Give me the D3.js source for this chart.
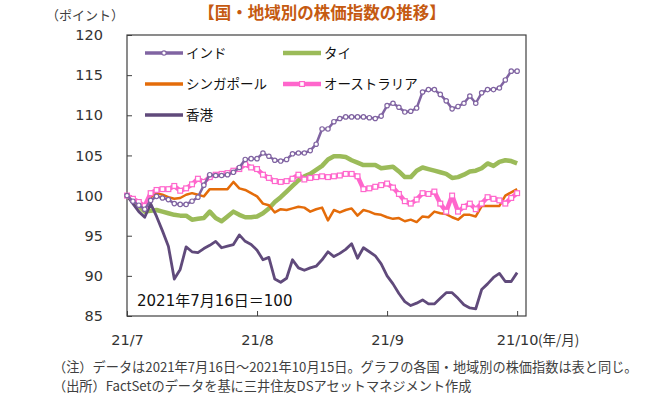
<!DOCTYPE html>
<html>
<head>
<meta charset="utf-8">
<script src="https://cdn.jsdelivr.net/npm/d3@7"></script>
<style>
  body { margin: 0; background: #fff; }
  svg text { font-family: "Noto Sans CJK JP", sans-serif; }
  .num text, text.num { font-family: "DejaVu Sans", "Noto Sans CJK JP", sans-serif; }
</style>
</head>
<body>
<svg id="chart" width="645" height="401"></svg>
<script>
/* DATA: ONE VALUE PER TRADING DAY, 2021/7/16 = 100 */
var names = ['インド', 'タイ', 'シンガポール', 'オーストラリア', '香港'];

var india = [100, 99.3, 98.8, 98.3, 99.4, 99.9, 99.7, 99.5, 99.0, 98.9, 98.9, 99.3, 99.8, 101.3, 102.6, 102.5, 102.5, 102.6, 102.9, 103.5,
  104.5, 104.6, 104.6, 105.3, 104.9, 104.4, 104.3, 104.5, 105.2, 105.3, 105.3, 105.6, 106.4, 108.3, 108.3, 109.2, 109.6, 109.8, 109.8, 109.8,
  109.8, 109.7, 109.6, 109.9, 111.2, 111.5, 111.0, 110.4, 110.5, 110.9, 112.9, 113.2, 113.2, 112.6, 111.8, 110.8, 111.1, 111.5, 112.4, 111.5,
  112.8, 113.2, 113.2, 113.4, 114.4, 115.5, 115.5];

var thai = [100, 99.4, 98.7, 98.0, 98.1, 98.2, 98.0, 97.8, 97.6, 97.5, 97.5, 97.0, 97.1, 97.2, 98.0, 97.2, 96.8, 97.4, 98.0, 97.6,
  97.3, 97.3, 97.4, 97.8, 98.4, 99.2, 99.8, 100.5, 101.2, 101.9, 102.4, 102.7, 103.2, 103.7, 104.5, 104.9, 104.9, 104.8, 104.4, 104.1,
  103.8, 103.8, 103.8, 103.4, 103.5, 103.6, 103.0, 102.3, 102.3, 103.1, 103.5, 103.3, 103.1, 102.9, 102.7, 102.2, 102.3, 102.6, 103.0, 103.1,
  103.4, 104.0, 103.7, 104.2, 104.4, 104.3, 104.0];

var singapore = [100, 99.3, 98.8, 98.9, 99.8, 100.3, 100.1, 99.8, 99.6, 99.7, 100.1, 100.3, 100.1, 99.9, 100.8, 100.8, 100.8, 100.8, 101.7, 100.9,
  100.7, 100.3, 99.9, 99.0, 98.8, 97.9, 98.3, 98.2, 98.4, 98.6, 98.5, 98.0, 98.3, 98.5, 96.9, 98.2, 97.9, 98.2, 98.4, 97.5,
  98.2, 98.0, 97.7, 97.6, 97.3, 97.1, 97.2, 96.8, 97.0, 96.7, 97.4, 97.3, 98.0, 97.8, 97.7, 97.3, 97.0, 97.6, 97.6, 97.4,
  98.7, 98.7, 98.7, 98.7, 100.0, 100.4, 100.8];

var australia = [100, 99.6, 99.2, 98.7, 100.3, 100.7, 100.8, 100.8, 101.2, 100.6, 100.9, 101.4, 102.1, 101.7, 102.3, 102.6, 102.7, 102.8, 103.1, 103.3,
  103.9, 103.5, 103.3, 102.6, 102.2, 101.8, 101.7, 101.8, 102.1, 102.6, 102.0, 102.2, 102.3, 102.4, 102.3, 102.4, 102.5, 102.7, 102.7, 102.4,
  100.8, 100.9, 101.1, 101.3, 101.5, 101.0, 100.2, 99.3, 99.0, 99.5, 100.3, 100.2, 100.5, 99.0, 98.0, 100.0, 98.0, 98.6, 99.0, 98.3,
  99.0, 99.8, 99.6, 99.4, 99.0, 99.7, 100.3];

var hongkong = [100, 99.0, 98.0, 97.3, 99.0, 97.4, 95.6, 93.7, 89.6, 90.8, 93.6, 93.0, 92.9, 93.4, 93.8, 94.3, 93.5, 93.7, 93.9, 95.1,
  94.3, 93.9, 93.2, 92.0, 92.3, 89.6, 89.2, 89.7, 92.0, 91.0, 90.7, 91.0, 91.2, 92.0, 93.0, 92.4, 92.8, 93.3, 94.0, 92.2,
  93.5, 93.0, 92.5, 91.5, 90.0, 89.0, 87.8, 86.8, 86.3, 86.6, 87.0, 86.5, 86.5, 87.2, 87.9, 87.9, 87.2, 86.4, 86.0, 85.9,
  88.3, 89.0, 89.8, 90.3, 89.3, 89.3, 90.4];

var xTickIndex = [0, 22, 44, 66];
var xTickLabels = ['21/7', '21/8', '21/9', '21/10'];
var yTicks = [85, 90, 95, 100, 105, 110, 115, 120];

/* SERIES STYLES */
var series = [
  { name: names[1], values: thai, color: '#9BBB59', width: 4.5, marker: null },
  { name: names[2], values: singapore, color: '#E46C0A', width: 2.5, marker: null },
  { name: names[4], values: hongkong, color: '#604A7B', width: 2.8, marker: null },
  { name: names[3], values: australia, color: '#FF66CC', width: 4.5, marker: 'square' },
  { name: names[0], values: india, color: '#8064A2', width: 2.5, marker: 'circle' }
];

var svg = d3.select('#chart');
var plot = { left: 127, right: 526, top: 35, bottom: 316 };

var x = d3.scaleLinear().domain([0, 67.5]).range([plot.left, plot.right]);
var y = d3.scaleLinear().domain([85, 120]).range([plot.bottom, plot.top]);

/* TITLE AND UNIT */
svg.append('text')
  .attr('x', 322).attr('y', 19)
  .attr('text-anchor', 'middle')
  .style('font-size', '16.5px').style('font-weight', 'bold')
  .attr('fill', '#C55A11')
  .text('【国・地域別の株価指数の推移】');

svg.append('text')
  .attr('x', 85).attr('y', 20)
  .attr('text-anchor', 'middle')
  .style('font-size', '13px')
  .attr('fill', '#404040')
  .text('（ポイント）');

/* AXES */
var yAxis = d3.axisLeft(y).tickValues(yTicks).tickSize(-5).tickPadding(24);
var gy = svg.append('g').attr('class', 'num')
  .attr('transform', 'translate(' + plot.left + ',0)')
  .call(yAxis);
gy.select('.domain').remove();
gy.selectAll('line').attr('stroke', '#404040');
gy.selectAll('text').style('font-size', '14.5px').attr('fill', '#333');

var xAxis = d3.axisBottom(x).tickValues(xTickIndex)
  .tickFormat(function(d, i) { return xTickLabels[i]; })
  .tickSize(-5).tickPadding(19);
var gx = svg.append('g').attr('class', 'num')
  .attr('transform', 'translate(0,' + plot.bottom + ')')
  .call(xAxis);
gx.select('.domain').remove();
gx.selectAll('line').attr('stroke', '#404040');
gx.selectAll('text').style('font-size', '14.5px').attr('fill', '#333');

svg.append('text')
  .attr('x', 538).attr('y', 345)
  .style('font-size', '13.5px')
  .attr('fill', '#333')
  .text('(年/月)');

/* FRAME */
svg.append('rect')
  .attr('x', plot.left).attr('y', plot.top)
  .attr('width', plot.right - plot.left).attr('height', plot.bottom - plot.top)
  .attr('fill', 'none').attr('stroke', '#404040').attr('stroke-width', 1.2);

/* LINES */
var line = d3.line()
  .x(function(d, i) { return x(i); })
  .y(function(d) { return y(d); });

series.forEach(function(s) {
  svg.append('path')
    .datum(s.values)
    .attr('d', line)
    .attr('fill', 'none')
    .attr('stroke', s.color)
    .attr('stroke-width', s.width)
    .attr('stroke-linejoin', 'round');
  if (s.marker === 'circle') {
    svg.append('g').selectAll('circle')
      .data(s.values).enter().append('circle')
      .attr('cx', function(d, i) { return x(i); })
      .attr('cy', function(d) { return y(d); })
      .attr('r', 2.2)
      .attr('fill', '#fff').attr('stroke', s.color).attr('stroke-width', 1.2);
  } else if (s.marker === 'square') {
    svg.append('g').selectAll('rect')
      .data(s.values).enter().append('rect')
      .attr('x', function(d, i) { return x(i) - 2.4; })
      .attr('y', function(d) { return y(d) - 2.4; })
      .attr('width', 4.8).attr('height', 4.8)
      .attr('fill', '#fff').attr('stroke', s.color).attr('stroke-width', 1.2);
  }
});

/* LEGEND */
var legendPos = [
  { name: names[0], x: 145, y: 53 },
  { name: names[1], x: 283, y: 53 },
  { name: names[2], x: 145, y: 84 },
  { name: names[3], x: 283, y: 84 },
  { name: names[4], x: 145, y: 115 }
];
legendPos.forEach(function(p) {
  var s = series.filter(function(d) { return d.name === p.name; })[0];
  var g = svg.append('g').attr('transform', 'translate(' + p.x + ',' + p.y + ')');
  g.append('line')
    .attr('x1', 0).attr('x2', 38).attr('y1', 0).attr('y2', 0)
    .attr('stroke', s.color).attr('stroke-width', Math.max(s.width, 3.5));
  if (s.marker === 'circle') {
    g.append('circle').attr('cx', 19).attr('cy', 0).attr('r', 2.2)
      .attr('fill', '#fff').attr('stroke', s.color).attr('stroke-width', 1.2);
  } else if (s.marker === 'square') {
    g.append('rect').attr('x', 16.6).attr('y', -2.4).attr('width', 4.8).attr('height', 4.8)
      .attr('fill', '#fff').attr('stroke', s.color).attr('stroke-width', 1.2);
  }
  g.append('text')
    .attr('x', 41).attr('y', 0).attr('dy', '0.36em')
    .style('font-size', '13.5px')
    .attr('fill', '#111')
    .text(s.name);
});

/* BASE NOTE INSIDE PLOT */
svg.append('text').attr('class', 'num')
  .attr('x', 137).attr('y', 306)
  .style('font-size', '15px')
  .attr('fill', '#111')
  .text('2021年7月16日＝100');

/* FOOTNOTES */
svg.append('text')
  .attr('x', 53).attr('y', 372)
  .style('font-size', '13.2px')
  .attr('fill', '#404040')
  .text('（注）データは2021年7月16日～2021年10月15日。グラフの各国・地域別の株価指数は表と同じ。');
svg.append('text')
  .attr('x', 53).attr('y', 391)
  .style('font-size', '13.2px')
  .attr('fill', '#404040')
  .text('（出所）FactSetのデータを基に三井住友DSアセットマネジメント作成');
</script>
</body>
</html>
